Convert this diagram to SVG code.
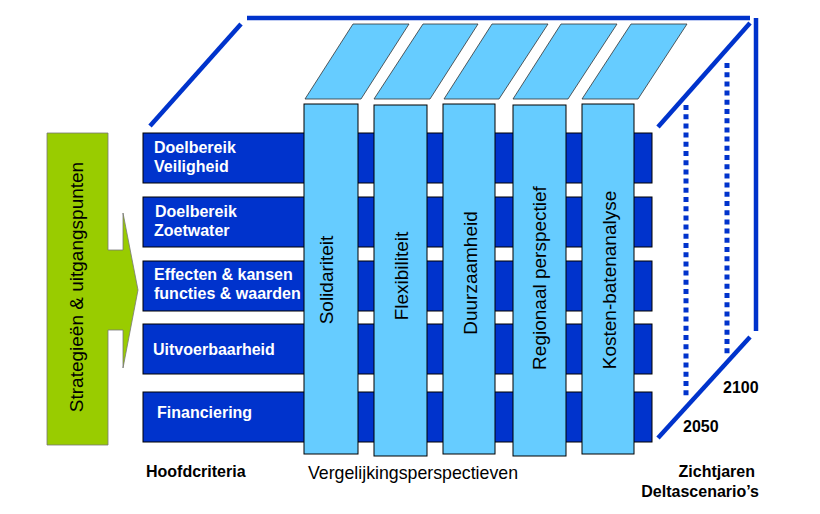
<svg xmlns="http://www.w3.org/2000/svg" width="820" height="514" viewBox="0 0 820 514">
<style>
.row{fill:#0033cc;stroke:#000;stroke-width:1}
.col{fill:#66ccff;stroke:#000;stroke-width:1}
.para{fill:#66ccff;stroke:#333;stroke-width:0.8}
.edge{stroke:#0033cc;stroke-width:4.5;fill:none}
.dot{stroke:#0033cc;stroke-width:5;stroke-dasharray:5 4.2;fill:none}
.rl{font-family:"Liberation Sans",Arial,sans-serif;font-weight:bold;font-size:16px;fill:#fff}
.cl{font-family:"Liberation Sans",Arial,sans-serif;font-size:19px;fill:#000}
.lb{font-family:"Liberation Sans",Arial,sans-serif;font-weight:bold;font-size:16px;fill:#000}
</style>
<rect width="820" height="514" fill="#fff"/>
<g id="frame">
<line class="edge" x1="247" y1="18" x2="750" y2="18"/>
<line class="edge" x1="150" y1="126" x2="241" y2="24"/>
<line class="edge" x1="658" y1="127" x2="750" y2="23"/>
<line class="edge" x1="756" y1="18" x2="756" y2="331" stroke-width="5"/>
<line class="edge" x1="658" y1="438" x2="750" y2="337"/>
<line class="dot" x1="686" y1="105" x2="686" y2="396"/>
<line class="dot" x1="727" y1="63" x2="727" y2="354"/>
</g>
<g id="arrow">
<polygon points="47,133 108,133 108,250 123,250 123,213 138,290 123,368 123,330 108,330 108,445 47,445" fill="#99cc00" stroke="#777" stroke-width="0.8"/>
<text class="cl" font-size="20" transform="translate(83,287) rotate(-90)" text-anchor="middle">Strategieën &amp; uitgangspunten</text>
</g>
<g id="rows">
<g id="row1"><rect class="row" x="143" y="133" width="509" height="50"/><text class="rl" x="154" y="153">Doelbereik</text><text class="rl" x="154" y="172">Veiligheid</text></g>
<g id="row2"><rect class="row" x="143" y="197" width="509" height="50"/><text class="rl" x="155" y="217">Doelbereik</text><text class="rl" x="154" y="236">Zoetwater</text></g>
<g id="row3"><rect class="row" x="143" y="261" width="509" height="50"/><text class="rl" x="154" y="280">Effecten &amp; kansen</text><text class="rl" x="154" y="299">functies &amp; waarden</text></g>
<g id="row4"><rect class="row" x="143" y="324" width="509" height="50"/><text class="rl" x="153" y="355">Uitvoerbaarheid</text></g>
<g id="row5"><rect class="row" x="143" y="392" width="509" height="50"/><text class="rl" x="157" y="418">Financiering</text></g>
</g>
<g id="columns">
<g id="col1"><polygon class="para" points="305,99 361,99 409,24 353,24"/><rect class="col" x="304" y="104" width="54" height="350"/><text class="cl" transform="translate(333,280) rotate(-90)" text-anchor="middle">Solidariteit</text></g>
<g id="col2"><polygon class="para" points="374,99 430,99 478,24 423,24"/><rect class="col" x="374" y="105" width="53" height="351"/><text class="cl" transform="translate(408,276) rotate(-90)" text-anchor="middle">Flexibiliteit</text></g>
<g id="col3"><polygon class="para" points="444,99 499,99 548,24 492,24"/><rect class="col" x="443" y="104" width="52" height="350"/><text class="cl" transform="translate(477,273) rotate(-90)" text-anchor="middle">Duurzaamheid</text></g>
<g id="col4"><polygon class="para" points="513,99 568,99 617,24 561,24"/><rect class="col" x="513" y="105" width="53" height="351"/><text class="cl" transform="translate(546,278) rotate(-90)" text-anchor="middle">Regionaal perspectief</text></g>
<g id="col5"><polygon class="para" points="582,99 638,99 687,24 631,24"/><rect class="col" x="582" y="104" width="52" height="350"/><text class="cl" transform="translate(616,280) rotate(-90)" text-anchor="middle">Kosten-batenanalyse</text></g>
</g>
<g id="labels">
<text class="lb" x="723" y="393">2100</text>
<text class="lb" x="683" y="432">2050</text>
<text class="lb" x="146" y="477">Hoofdcriteria</text>
<text class="cl" font-size="15" x="308" y="479" textLength="210" lengthAdjust="spacingAndGlyphs">Vergelijkingsperspectieven</text>
<text class="lb" x="755" y="477" text-anchor="end">Zichtjaren</text>
<text class="lb" x="759" y="497" text-anchor="end">Deltascenario’s</text>
</g>
</svg>
